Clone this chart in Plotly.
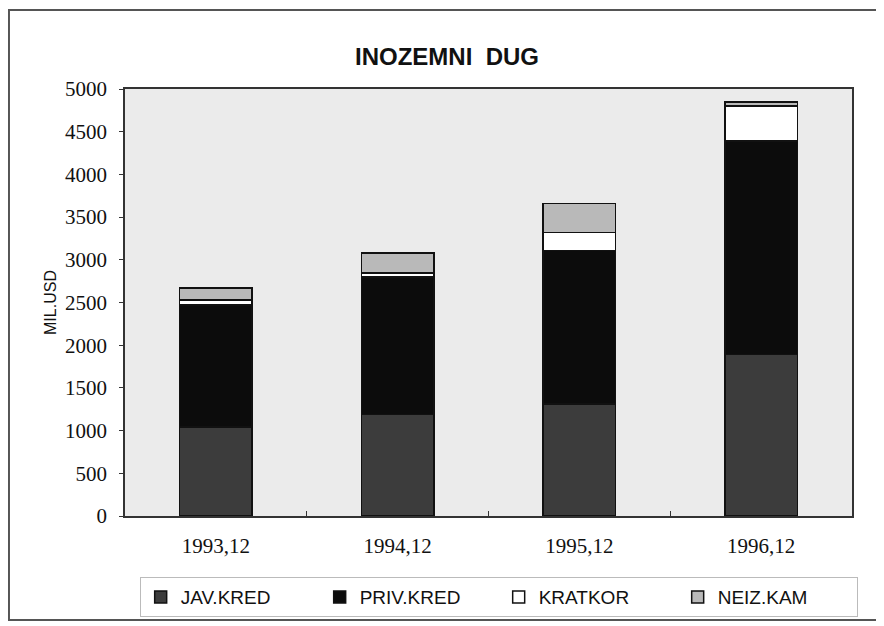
import plotly.graph_objects as go

categories = ["1993,12", "1994,12", "1995,12", "1996,12"]
jav_kred = [1040, 1190, 1310, 1890]
priv_kred = [1430, 1610, 1800, 2500]
kratkor = [60, 45, 210, 410]
neiz_kam = [140, 235, 340, 45]
y_ticks = [0, 500, 1000, 1500, 2000, 2500, 3000, 3500, 4000, 4500, 5000]

series = [
    ("JAV.KRED", jav_kred, "#3c3c3c"),
    ("PRIV.KRED", priv_kred, "#0c0c0c"),
    ("KRATKOR", kratkor, "#ffffff"),
    ("NEIZ.KAM", neiz_kam, "#b9b9b9"),
]

fig = go.Figure()
for name, vals, col in series:
    fig.add_trace(go.Bar(
        x=categories, y=vals, name=name,
        marker=dict(color=col, line=dict(color="#111111", width=1.5)),
    ))

sans = "Liberation Sans Narrow, Arial Narrow, Liberation Sans, Arial, sans-serif"
serif = "Liberation Serif, Times New Roman, serif"

fig.update_layout(
    barmode="stack",
    bargap=0.6,
    width=884, height=626,
    margin=dict(l=117, r=40, t=81, b=118),
    paper_bgcolor="white",
    plot_bgcolor="#ebebeb",
    title=dict(text="<b>INOZEMNI  DUG</b>", x=0.4966, xanchor="center", y=0.922, yanchor="middle",
               font=dict(family="Liberation Sans, Arial, sans-serif", size=24, color="#111111")),
    showlegend=True,
    legend=dict(
        orientation="h", x=0.514, xanchor="center", y=-0.143, yanchor="top",
        bgcolor="white", bordercolor="#bbbbbb", borderwidth=1,
        font=dict(family=sans, size=19, color="#111111"),
        entrywidth=134, entrywidthmode="pixels",
        traceorder="normal",
    ),
    xaxis=dict(
        showline=True, linecolor="#333333", linewidth=1.5, mirror=True,
        ticks="inside", tickson="boundaries", ticklen=5, tickcolor="#333333",
        tickfont=dict(family=serif, size=21, color="#111111"),
        ticklabelstandoff=10,
        showgrid=False,
    ),
    yaxis=dict(
        range=[0, 5000], tickvals=y_ticks,
        showline=True, linecolor="#333333", linewidth=1.5, mirror=True,
        ticks="outside", ticklen=4, tickcolor="#333333",
        tickfont=dict(family=serif, size=21, color="#111111"),
        ticklabelstandoff=8,
        showgrid=False, zeroline=False,
        title=dict(text="MIL.USD", standoff=4,
                   font=dict(family=sans, size=16, color="#111111")),
    ),
)

fig.add_shape(type="rect", xref="paper", yref="paper",
              x0=-0.1596, x1=1.0358, y0=-0.2436, y1=1.185,
              line=dict(color="#555555", width=2), fillcolor="rgba(0,0,0,0)", layer="below")

fig.write_html("out.html")
